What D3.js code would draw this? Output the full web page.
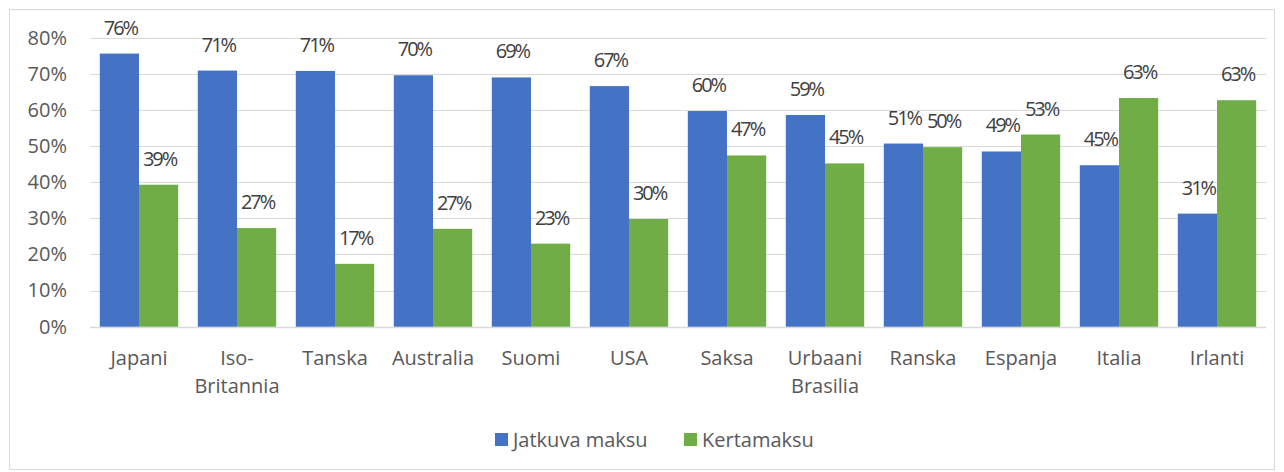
<!DOCTYPE html>
<html>
<head>
<meta charset="utf-8">
<script src="https://cdn.jsdelivr.net/npm/d3@7"></script>
<style>
  html, body { margin: 0; padding: 0; background: #fff; }
  svg { display: block; font-family: "Open Sans", sans-serif; }
</style>
</head>
<body>
<svg id="chart" width="1284" height="472"></svg>
<script>
// ===== DATA =====
const categories = ['Japani', 'Iso-Britannia', 'Tanska', 'Australia', 'Suomi', 'USA',
                    'Saksa', 'Urbaani Brasilia', 'Ranska', 'Espanja', 'Italia', 'Irlanti'];
const seriesNames = ['Jatkuva maksu', 'Kertamaksu'];
const jatkuva = [75.6, 70.9, 70.8, 69.6, 69.0, 66.6, 59.7, 58.6, 50.7, 48.5, 44.7, 31.3];
const kerta   = [39.3, 27.3, 17.4, 27.1, 23.0, 29.8, 47.4, 45.2, 49.7, 53.2, 63.3, 62.7];
const yTicks  = [0, 10, 20, 30, 40, 50, 60, 70, 80];
const colors  = ['#4472C4', '#70AD47'];

// Labels that wrap onto two lines
const labelLines = {
    'Iso-Britannia':    ['Iso-', 'Britannia'],
    'Urbaani Brasilia': ['Urbaani', 'Brasilia'],
};

// ===== LAYOUT =====
const W = 1284, H = 472;
const plot = { left: 90, right: 1266, top: 37.7, bottom: 326.7 };
const svg = d3.select('#chart');
const textColor = '#595959';
const fontSize = '20px';

// chart frame
svg.append('rect')
    .attr('x', 9.5).attr('y', 9.5)
    .attr('width', W - 19).attr('height', H - 12)
    .attr('fill', 'none')
    .attr('stroke', '#d9d9d9')
    .attr('stroke-width', 1);

const x = d3.scaleBand()
    .domain(categories)
    .range([plot.left, plot.right])
    .paddingInner(0.2)
    .paddingOuter(0.1);

const xs = d3.scaleBand()
    .domain(seriesNames)
    .range([0, x.bandwidth()]);

const y = d3.scaleLinear()
    .domain([0, 80])
    .range([plot.bottom, plot.top]);

// gridlines
svg.append('g')
    .selectAll('line')
    .data(yTicks)
    .enter().append('line')
    .attr('x1', plot.left).attr('x2', plot.right)
    .attr('y1', d => Math.round(y(d)) + 0.5)
    .attr('y2', d => Math.round(y(d)) + 0.5)
    .attr('stroke', '#d9d9d9')
    .attr('stroke-width', d => d === 0 ? 1.5 : 1);

// y axis labels
const yAxis = svg.append('g')
    .attr('transform', `translate(${plot.left - 23},0)`)
    .call(d3.axisLeft(y).tickValues(yTicks).tickSize(0).tickPadding(0).tickFormat(d => d + '%'));
yAxis.select('.domain').remove();
yAxis.selectAll('text')
    .attr('fill', textColor)
    .style('font-size', fontSize)
    .style('font-family', '"Open Sans", sans-serif');

// bars
const rows = categories.map((c, i) => ({ cat: c, vals: [jatkuva[i], kerta[i]] }));

const groups = svg.append('g')
    .selectAll('g')
    .data(rows)
    .enter().append('g')
    .attr('transform', d => `translate(${x(d.cat)},0)`);

groups.selectAll('rect')
    .data(d => d.vals.map((v, k) => ({ v, k })))
    .enter().append('rect')
    .attr('x', d => xs(seriesNames[d.k]))
    .attr('y', d => y(d.v))
    .attr('width', xs.bandwidth())
    .attr('height', d => y(0) - y(d.v))
    .attr('fill', d => colors[d.k]);

// data labels (condensed look)
groups.selectAll('text')
    .data(d => d.vals.map((v, k) => ({ v, k })))
    .enter().append('text')
    .attr('x', d => xs(seriesNames[d.k]) + xs.bandwidth() / 2 + 1)
    .attr('y', d => y(d.v) - 19)
    .attr('text-anchor', 'middle')
    .attr('fill', '#404040')
    .style('font-size', fontSize)
    .style('letter-spacing', '-2px')
    .text(d => Math.round(d.v) + '%');

// x axis labels
const xl = svg.append('g')
    .selectAll('text')
    .data(categories)
    .enter().append('text')
    .attr('x', d => x(d) + x.bandwidth() / 2)
    .attr('y', 365)
    .attr('text-anchor', 'middle')
    .attr('fill', textColor)
    .style('font-size', fontSize);

xl.each(function (d) {
    const lines = labelLines[d] || [d];
    d3.select(this).selectAll('tspan')
        .data(lines)
        .enter().append('tspan')
        .attr('x', x(d) + x.bandwidth() / 2)
        .attr('dy', (l, i) => i === 0 ? 0 : 28)
        .text(l => l);
});

// legend
const legend = svg.append('g');
const legendItems = [
    { name: seriesNames[0], color: colors[0], x: 495 },
    { name: seriesNames[1], color: colors[1], x: 684 },
];
legendItems.forEach(item => {
    legend.append('rect')
        .attr('x', item.x).attr('y', 433)
        .attr('width', 13).attr('height', 13)
        .attr('fill', item.color);
    legend.append('text')
        .attr('x', item.x + 18).attr('y', 447)
        .attr('fill', textColor)
        .style('font-size', fontSize)
        .text(item.name);
});
</script>
</body>
</html>
